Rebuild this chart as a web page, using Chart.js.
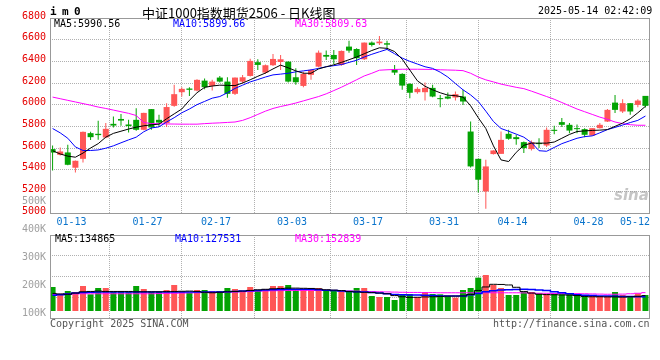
<!DOCTYPE html>
<html><head><meta charset="utf-8">
<script src="https://cdn.jsdelivr.net/npm/chart.js"></script>
<style>
html,body{margin:0;padding:0;background:#fff;}
#wrap{position:relative;width:660px;height:360px;overflow:hidden;font-family:'DejaVu Sans Mono',monospace;}
canvas{position:absolute;left:0;}
#c1{top:0;}
#c2{top:190px;}
.t{position:absolute;white-space:nowrap;font-size:10px;line-height:12px;color:#000;}
</style></head><body>
<div id="wrap">
<canvas id="c1" width="660" height="232"></canvas>
<canvas id="c2" width="660" height="170"></canvas>
<div class="t" style="left:50px;top:6px;font-size:11px;font-weight:bold;letter-spacing:-0.6px;">i m 0</div>
<div class="t" style="left:142px;top:5px;font-family:'Noto Sans CJK SC';font-size:13px;line-height:16px;">中证1000指数期货2506 - 日K线图</div>
<div class="t" style="left:538px;top:5px;">2025-05-14 02:42:09</div>
<div class="t" style="left:54px;top:18px;color:#000;">MA5:5990.56</div>
<div class="t" style="left:173px;top:18px;color:#0000ff;">MA10:5899.66</div>
<div class="t" style="left:295px;top:18px;color:#ff00ff;">MA30:5809.63</div>
<div class="t" style="left:55px;top:233px;color:#000;">MA5:134865</div>
<div class="t" style="left:175px;top:233px;color:#0000ff;">MA10:127531</div>
<div class="t" style="left:295px;top:233px;color:#ff00ff;">MA30:152839</div>
<div class="t" style="left:50px;top:318px;color:#555;">Copyright 2025 SINA.COM</div>
<div class="t" style="left:493px;top:318px;color:#555;">http://finance.sina.com.cn</div>
<div class="t" style="left:614px;top:187px;font-family:'DejaVu Sans';font-style:italic;font-weight:bold;font-size:15px;line-height:16px;color:rgba(150,150,150,0.55);">sina</div>
</div>
<script>
// ---------------- data ----------------
const DATES = ['01-09','01-10','01-13','01-14','01-15','01-16','01-17','01-20','01-21','01-22',
'01-23','01-24','01-27','02-05','02-06','02-07','02-10','02-11','02-12','02-13',
'02-14','02-17','02-18','02-19','02-20','02-21','02-24','02-25','02-26','02-27',
'02-28','03-03','03-04','03-05','03-06','03-07','03-10','03-11','03-12','03-13',
'03-14','03-17','03-18','03-19','03-20','03-21','03-24','03-25','03-26','03-27',
'03-28','03-31','04-01','04-02','04-03','04-07','04-08','04-09','04-10','04-11',
'04-14','04-15','04-16','04-17','04-18','04-21','04-22','04-23','04-24','04-25',
'04-28','04-29','04-30','05-06','05-07','05-08','05-09','05-12','05-13'];
const OPEN = [5590,5537,5559,5418,5500,5737,5731,5697,5823,5868,5817,5860,5768,5959,5860,5830,5989,6115,6149,6130,
6222,6173,6250,6213,6100,6213,6265,6392,6296,6364,6394,6397,6253,6173,6275,6351,6459,6459,6367,6536,
6514,6419,6573,6567,6567,6327,6284,6192,6115,6115,6155,6060,6075,6066,6075,5752,5500,5199,5544,5546,
5731,5700,5654,5590,5645,5623,5768,5839,5814,5783,5774,5715,5783,5844,6019,5937,6014,5998,6081];
const HIGH = [5623,5605,5630,5485,5752,5749,5851,5830,5890,5915,5860,5968,5925,5960,5906,6014,6183,6161,6160,6235,
6241,6229,6265,6253,6250,6275,6425,6419,6370,6468,6459,6400,6336,6305,6327,6499,6499,6505,6500,6591,
6521,6575,6582,6634,6591,6367,6290,6198,6160,6204,6183,6090,6112,6121,6137,5844,5500,5491,5580,5752,
5768,5722,5660,5669,5691,5790,5805,5876,5830,5817,5783,5783,5830,5960,6090,6051,6014,6051,6081];
const LOW = [5393,5530,5440,5374,5466,5673,5676,5691,5789,5805,5743,5760,5765,5768,5798,5793,5980,6075,6080,6125,
6143,6130,6205,6065,6090,6198,6259,6321,6284,6357,6321,6204,6183,6161,6229,6346,6413,6376,6360,6480,
6367,6413,6536,6551,6521,6275,6137,6060,6100,6038,6069,5977,6050,6038,5998,5420,5190,5040,5540,5546,
5676,5630,5553,5577,5599,5609,5728,5793,5737,5737,5700,5715,5780,5840,5922,5922,5908,5977,5975];
const CLOSE = [5558,5568,5445,5482,5749,5700,5719,5777,5807,5853,5802,5768,5924,5789,5835,5978,6097,6146,6137,6229,
6161,6213,6213,6100,6250,6253,6404,6367,6364,6422,6419,6213,6207,6284,6321,6480,6443,6419,6496,6499,
6429,6573,6551,6582,6554,6296,6176,6110,6146,6155,6075,6051,6056,6097,6029,5430,5307,5430,5577,5675,
5685,5682,5599,5654,5636,5768,5758,5814,5761,5774,5722,5783,5814,5952,5952,6014,5937,6038,5989];
const MA5 = [5575,5545,5525,5515,5553,5600,5640,5700,5735,5755,5775,5792,5805,5814,5820,5870,5915,5960,6040,6110,
6160,6172,6180,6178,6176,6200,6230,6262,6292,6330,6365,6340,6312,6290,6290,6330,6350,6368,6390,6415,
6440,6470,6500,6525,6520,6490,6420,6320,6220,6170,6137,6110,6088,6083,6070,5990,5880,5780,5620,5490,
5475,5560,5625,5645,5645,5645,5655,5690,5725,5752,5758,5762,5765,5770,5800,5830,5870,5925,5985];
const MA10 = [5780,5740,5690,5610,5577,5577,5582,5598,5620,5648,5675,5700,5750,5785,5795,5840,5880,5925,5960,6000,
6030,6060,6075,6110,6150,6180,6210,6232,6255,6275,6282,6290,6303,6312,6321,6335,6350,6360,6370,6390,
6410,6440,6465,6488,6510,6470,6430,6400,6375,6350,6335,6300,6255,6195,6137,6090,6030,5940,5845,5780,
5755,5728,5700,5650,5575,5570,5605,5640,5665,5690,5705,5712,5740,5770,5790,5812,5835,5855,5895];
const MA30 = [6070,6055,6040,6025,6010,5995,5978,5965,5950,5935,5920,5900,5835,5826,5824,5822,5821,5820,5820,5820,
5825,5829,5832,5836,5840,5855,5880,5910,5940,5965,5983,5998,6015,6035,6055,6075,6100,6130,6161,6195,
6230,6265,6290,6318,6322,6325,6327,6327,6327,6326,6325,6322,6320,6318,6314,6290,6255,6229,6210,6190,
6175,6160,6148,6125,6100,6075,6050,6020,5990,5960,5935,5910,5885,5865,5840,5825,5815,5810,5810];
const VOLUME = [186700,138600,162600,156600,192800,142600,180700,180700,156600,156600,156600,192800,174700,156600,156600,168700,198800,156600,150600,168700,
168700,162600,162600,180700,174700,156600,186700,162600,174700,192800,192800,198800,168700,168700,168700,180700,168700,162600,162600,156600,
180700,180700,132500,126500,126500,108400,138600,144600,126500,156600,144600,142600,132500,122500,168700,180700,243000,259000,198800,180700,
138600,138600,156600,156600,146600,146600,146600,142600,142600,142600,132500,138600,132500,132500,156600,138600,132500,148600,138600];
const VMA5 = [148000,145000,143000,150000,158000,160000,162000,160000,160000,160000,160000,158000,158000,158000,158000,159000,160000,161000,162000,160000,
155000,152000,155000,158000,160000,162000,166000,170000,173000,176000,178000,180000,180000,179000,178000,175000,170000,168000,165000,160000,
157000,155000,153000,150000,146000,135000,128000,124000,125000,127000,128000,130000,132000,132000,133000,142000,166000,187000,203000,202000,
199000,185000,160000,150000,143000,141000,140000,139000,138000,135000,130000,128000,128000,127000,127000,126000,128000,131000,134865];
const VMA10 = [137000,140000,145000,150000,153000,155000,156000,156000,157000,157000,157000,157000,157000,157000,157000,157000,157000,157000,157000,157000,
157000,157000,157000,158000,160000,162000,164000,166000,168000,170000,172000,173000,173000,173000,173000,170000,167000,165000,162000,160000,
158000,156000,153000,150000,146000,142000,140000,139000,138000,137000,136000,133000,132000,132000,133000,140000,148000,158000,164000,168000,
170000,172000,173000,171000,168000,165000,158000,152000,146000,140000,137000,135000,133000,132000,131000,130000,129000,128000,127531];
const VMA30 = [142000,143000,144000,145000,146000,146000,146000,146000,146000,146000,146000,146000,146000,146000,147000,148000,149000,150000,151000,152000,
153000,154000,155000,156000,157000,158000,160000,162000,163000,164000,165000,166000,166000,166000,166000,166000,166000,166000,165000,163000,
162000,160000,159000,158000,157000,156000,155000,154000,154000,153000,153000,152000,152000,152000,152000,152000,152000,152000,152000,152000,
152000,152000,151000,150000,149000,149000,148000,148000,147000,147000,146000,145000,144000,143000,143000,144000,146000,149000,152839];
const X_TICK_DATES = ['01-13','01-27','02-17','03-03','03-17','03-31','04-14','04-28','05-12'];
const PRICE_MIN = 5000, PRICE_MAX = 6800, PRICE_STEP = 200;
const VOL_MIN = 0, VOL_MAX = 500000, VOL_GRID_STEP = 125000, VOL_BAR_BASE = 42000;
const VOL_LABEL_VALUES = [100000,200000,300000,400000,500000];
const VOL_LABEL_RANGE = [85000, 381000];

// ---------------- style ----------------
const MONO = "'DejaVu Sans Mono', monospace";
const UP = '#ff5656', DOWN = '#03a303';
const GRID = '#b0b0b0', FRAME = '#999999';
const X_MIN = -0.34, X_MAX = 78.6, LABEL_HALF_UNITS = 1.97;

const idx = DATES.map((_, i) => i);
const colorAt = i => CLOSE[i] >= OPEN[i] ? UP : DOWN;
const xTicks = X_TICK_DATES.map(d => {
  const v = DATES.indexOf(d) + 0.5;
  const lv = Math.min(v, X_MAX - LABEL_HALF_UNITS);
  return {value: lv, label: d, hide: lv !== v};
});
const gridColorX = c => (c.tick && c.tick.hide) ? 'rgba(0,0,0,0)' : GRID;

const frame = {id: 'frame', afterDraw(chart) {
  const {ctx, chartArea: a} = chart;
  ctx.save(); ctx.strokeStyle = FRAME; ctx.lineWidth = 1;
  ctx.strokeRect(Math.round(a.left) + 0.5, Math.round(a.top) + 0.5, Math.round(a.right - a.left) - 1, Math.round(a.bottom - a.top));
  ctx.restore();
}};

Chart.defaults.font.family = MONO;
Chart.defaults.font.size = 10;

const lineDs = (data, color, extra) => Object.assign({
  type: 'line', data: idx.map(i => ({x: i, y: data[i]})), borderColor: color, borderWidth: 1,
  pointRadius: 0, tension: 0, order: 0
}, extra || {});

const xScale = (showLabels, height) => ({
  type: 'linear', min: X_MIN, max: X_MAX, offset: false,
  afterBuildTicks: s => { s.ticks = xTicks.map(t => Object.assign({}, t)); },
  afterFit: s => { s.height = height; },
  ticks: {display: showLabels, autoSkip: false, maxRotation: 0, color: '#0a74cc', padding: 3,
          font: {family: MONO, size: 10}, callback: (v, i) => xTicks[i] ? xTicks[i].label : ''},
  grid: {color: gridColorX, drawTicks: false, lineWidth: 1},
  border: {display: false, dash: [1, 1]}
});

new Chart(document.getElementById('c1'), {
  type: 'bar',
  data: {datasets: [
    lineDs(MA5, '#000000'),
    lineDs(MA10, '#0000ff'),
    lineDs(MA30, '#ff00ff'),
    {type: 'bar', data: idx.map(i => ({x: i, y: [OPEN[i], CLOSE[i]]})), backgroundColor: idx.map(colorAt),
     barThickness: 6, grouped: false, minBarLength: 1, inflateAmount: 0, borderWidth: 0, order: 1},
    {type: 'bar', data: idx.map(i => ({x: i, y: [LOW[i], HIGH[i]]})), backgroundColor: idx.map(colorAt),
     barThickness: 1, grouped: false, inflateAmount: 0, borderWidth: 0, order: 2}
  ]},
  options: {
    responsive: false, animation: false, events: [],
    layout: {padding: {top: 18, right: 10, left: 0, bottom: 0}},
    plugins: {legend: {display: false}, tooltip: {enabled: false}},
    scales: {
      x: xScale(true, 19),
      y: {type: 'linear', min: PRICE_MIN, max: PRICE_MAX,
          afterFit: s => { s.width = 50; },
          ticks: {stepSize: PRICE_STEP, color: '#e60000', padding: 4, labelOffset: -2, font: {family: MONO, size: 10},
                  callback: v => String(v)},
          grid: {color: GRID, drawTicks: false}, border: {display: false, dash: [1, 1]}}
    }
  },
  plugins: [frame]
});

new Chart(document.getElementById('c2'), {
  type: 'bar',
  data: {datasets: [
    lineDs(VMA5, '#000000', {stepped: 'middle'}),
    lineDs(VMA10, '#0000ff', {stepped: 'middle', borderWidth: 1.5}),
    lineDs(VMA30, '#ff00ff', {stepped: 'middle'}),
    {type: 'bar', data: idx.map(i => ({x: i, y: VOLUME[i]})), backgroundColor: idx.map(colorAt),
     base: VOL_BAR_BASE, barThickness: 6, grouped: false, inflateAmount: 0, borderWidth: 0, order: 1}
  ]},
  options: {
    responsive: false, animation: false, events: [],
    layout: {padding: {top: 45, right: 10, left: 0, bottom: 0}},
    plugins: {legend: {display: false}, tooltip: {enabled: false}},
    scales: {
      x: xScale(false, 42),
      y: {type: 'linear', position: 'left', min: VOL_MIN, max: VOL_MAX,
          afterFit: s => { s.width = 0; },
          ticks: {display: false, stepSize: VOL_GRID_STEP},
          grid: {color: GRID, drawTicks: false}, border: {display: false, dash: [1, 1]}},
      yLbl: {type: 'linear', position: 'left', min: VOL_LABEL_RANGE[0], max: VOL_LABEL_RANGE[1],
          afterBuildTicks: s => { s.ticks = VOL_LABEL_VALUES.map(v => ({value: v})); },
          afterFit: s => { s.width = 50; },
          ticks: {autoSkip: false, color: '#a0a0a0', padding: 4, font: {family: MONO, size: 10},
                  callback: v => (v / 1000) + 'K'},
          grid: {display: false, drawTicks: false}, border: {display: false}}
    }
  },
  plugins: [frame]
});
</script>
</body></html>
